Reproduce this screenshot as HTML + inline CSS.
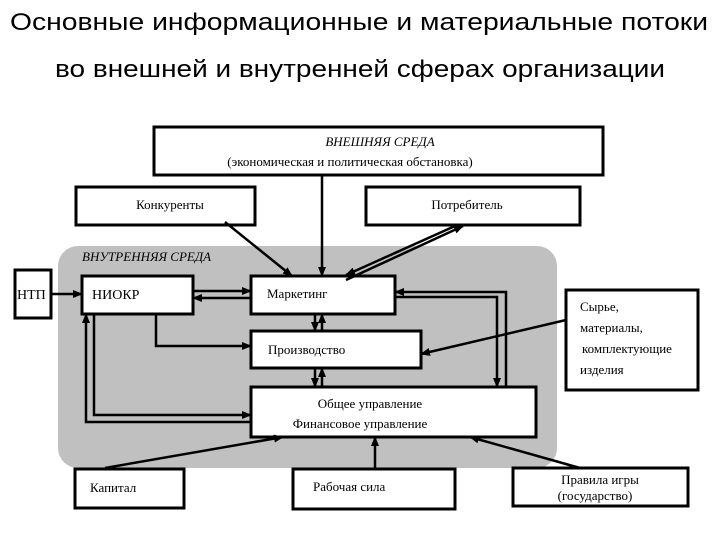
<html><body style="margin:0;background:#fff">
<svg width="720" height="540" xmlns="http://www.w3.org/2000/svg" font-family="Liberation Serif, serif">
<defs><marker id="a" markerWidth="10" markerHeight="8" refX="9" refY="4" orient="auto" markerUnits="userSpaceOnUse"><path d="M0,0L10,4L0,8z" fill="#000"/></marker></defs>
<g font-family="Liberation Sans, sans-serif" font-size="24" text-anchor="middle">
<text x="359" y="30" textLength="698" lengthAdjust="spacingAndGlyphs">Основные информационные и материальные потоки</text>
<text x="360" y="77" textLength="610" lengthAdjust="spacingAndGlyphs">во внешней и внутренней сферах организации</text>
</g>
<rect x="58" y="246" width="499" height="222" rx="20" fill="#c0c0c0"/>
<g fill="#fff" stroke="#000" stroke-width="3">
<rect x="154" y="127" width="449" height="48"/>
<rect x="76" y="187" width="179" height="38"/>
<rect x="366" y="187" width="214" height="38"/>
<rect x="15" y="270" width="36" height="48"/>
<rect x="82" y="276" width="111" height="38"/>
<rect x="251" y="276" width="144" height="38"/>
<rect x="251" y="331" width="170" height="37"/>
<rect x="251" y="387" width="285" height="50"/>
<rect x="566" y="290" width="132" height="100"/>
<rect x="75" y="469" width="109" height="39"/>
<rect x="293" y="469" width="162" height="40"/>
<rect x="513" y="468" width="175" height="38"/>
</g>
<g font-size="13" fill="#000">
<text x="380" y="146" text-anchor="middle" font-style="italic">ВНЕШНЯЯ  СРЕДА</text>
<text x="350" y="166" text-anchor="middle">(экономическая и политическая обстановка)</text>
<text x="170" y="209" text-anchor="middle">Конкуренты</text>
<text x="467" y="209" text-anchor="middle">Потребитель</text>
<text x="82" y="261" font-style="italic">ВНУТРЕННЯЯ   СРЕДА</text>
<text x="17" y="299" font-size="14">НТП</text>
<text x="92" y="299" font-size="14">НИОКР</text>
<text x="267" y="298">Маркетинг</text>
<text x="268" y="354">Производство</text>
<text x="370" y="408" text-anchor="middle">Общее управление</text>
<text x="360" y="428" text-anchor="middle">Финансовое  управление</text>
<text x="580" y="311">Сырье,</text>
<text x="580" y="332">материалы,</text>
<text x="582" y="353">комплектующие</text>
<text x="580" y="374">изделия</text>
<text x="90" y="492">Капитал</text>
<text x="313" y="491">Рабочая  сила</text>
<text x="600" y="484" text-anchor="middle">Правила  игры</text>
<text x="595" y="500" text-anchor="middle">(государство)</text>
</g>
<g stroke="#000" stroke-width="2.5" fill="none" marker-end="url(#a)">
<line x1="322" y1="175" x2="322" y2="276"/>
<line x1="225" y1="222" x2="292" y2="276"/>
<line x1="455" y1="226" x2="346" y2="275"/>
<line x1="346" y1="280" x2="463" y2="226"/>
<line x1="51" y1="294" x2="82" y2="294"/>
<line x1="193" y1="291" x2="251" y2="291"/>
<line x1="251" y1="298" x2="193" y2="298"/>
<line x1="315" y1="314" x2="315" y2="331"/>
<line x1="322" y1="331" x2="322" y2="314"/>
<line x1="315" y1="368" x2="315" y2="387"/>
<line x1="322" y1="387" x2="322" y2="368"/>
<polyline points="395,297 497,297 497,387"/>
<polyline points="506,387 506,292 395,292"/>
<line x1="566" y1="320" x2="421" y2="354"/>
<polyline points="156,314 156,346 251,346"/>
<polyline points="94,314 94,415 251,415"/>
<polyline points="251,422 86,422 86,314"/>
<line x1="105" y1="468" x2="283" y2="437"/>
<line x1="375" y1="469" x2="375" y2="437"/>
<line x1="580" y1="468" x2="470" y2="437"/>
</g>
</svg>
</body></html>
